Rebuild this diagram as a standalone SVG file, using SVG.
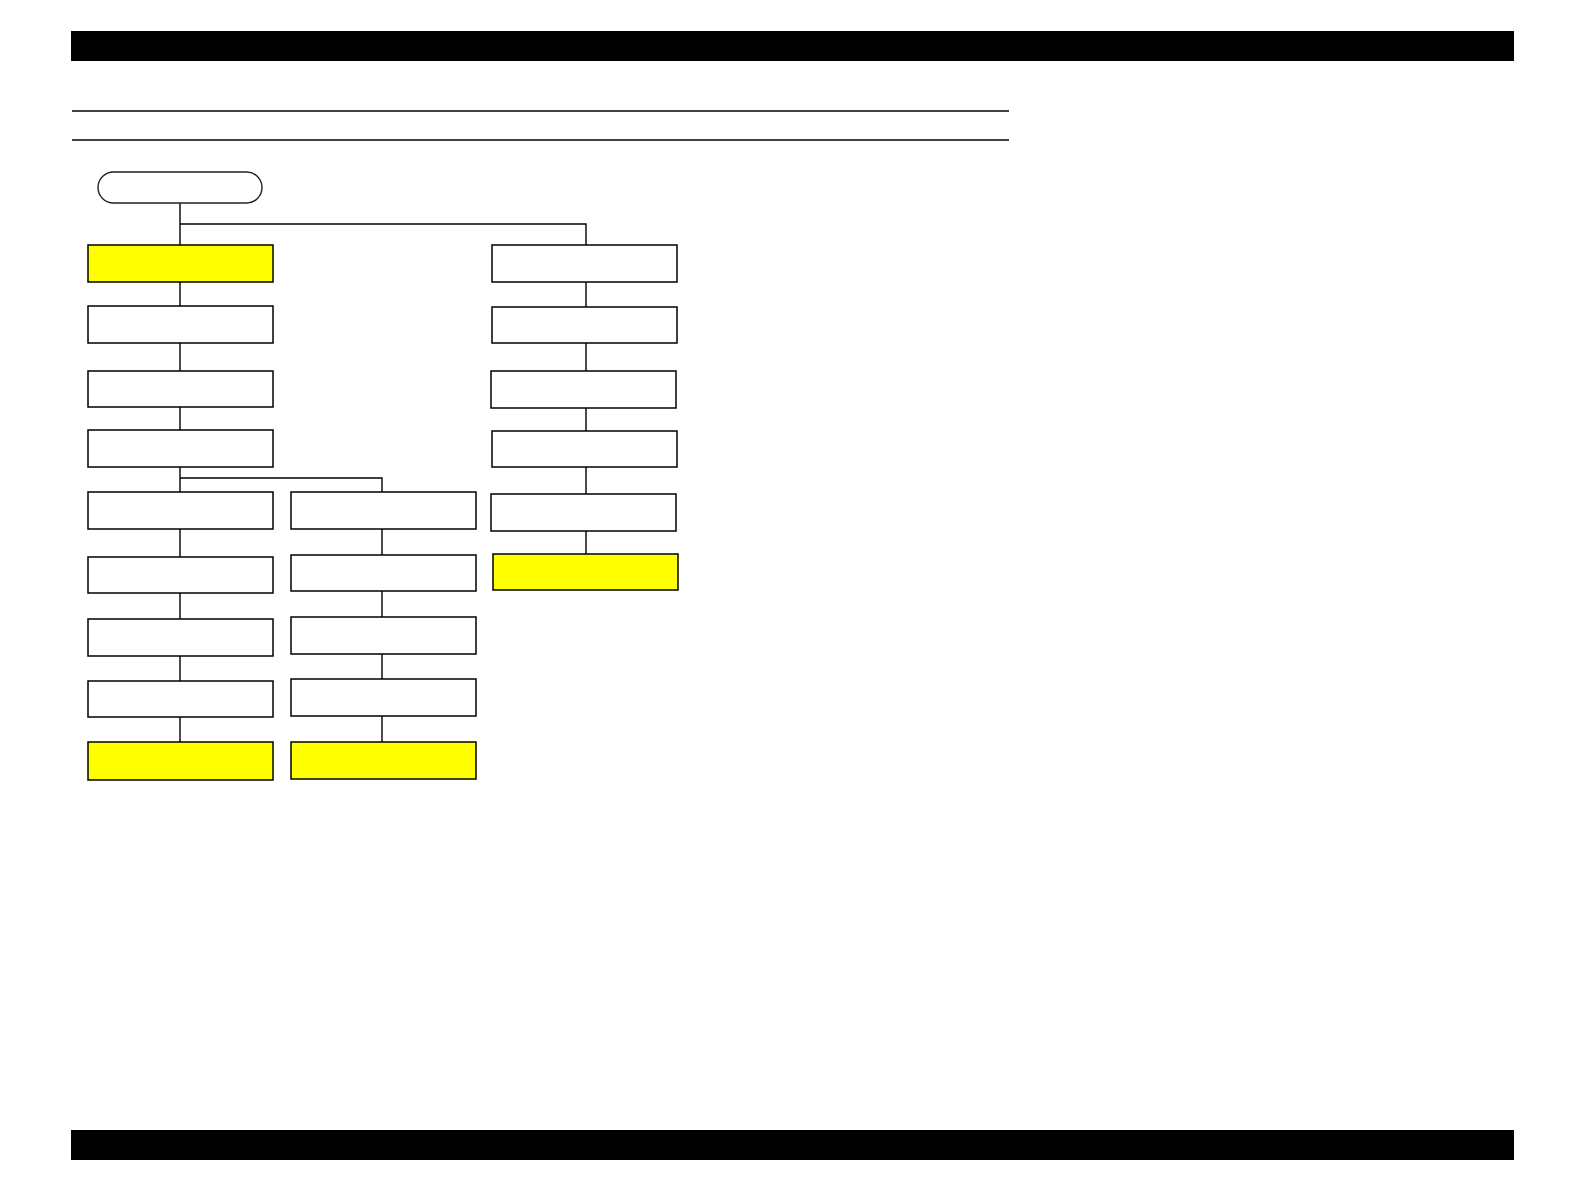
<svg xmlns="http://www.w3.org/2000/svg" width="1584" height="1190" viewBox="0 0 1584 1190">
<style>
.bar{fill:#000}
.rule{stroke:#000;stroke-width:1.6;fill:none}
.box{fill:#fff;stroke:#000;stroke-width:1.5}
.hi{fill:#ffff00;stroke:#000;stroke-width:1.5}
.term{fill:#fff;stroke:#222;stroke-width:1.4}
.conn{stroke:#000;stroke-width:1.4;fill:none}
</style>
<rect width="1584" height="1190" fill="#fff"/>
<g id="header">
<rect class="bar" x="71" y="31" width="1443" height="30"/>
<line class="rule" x1="72" y1="111" x2="1009" y2="111"/>
<line class="rule" x1="72" y1="140" x2="1009" y2="140"/>
</g>
<g id="footer">
<rect class="bar" x="71" y="1130" width="1443" height="30"/>
</g>
<g id="connectors">
<path class="conn" d="M180 203V245M180 224H586V245"/>
<path class="conn" d="M180 282V306M180 343V371M180 407V430M180 467V492M180 478H382V492"/>
<path class="conn" d="M180 529V557M180 593V619M180 656V681M180 717V742"/>
<path class="conn" d="M382 529V555M382 591V617M382 654V679M382 716V742"/>
<path class="conn" d="M586 282V307M586 343V371M586 408V431M586 467V494M586 531V554"/>
</g>
<g id="start"><rect class="term" x="98" y="172" width="164" height="31" rx="15.5" ry="15.5"/></g>
<g id="a1"><rect class="hi" x="88" y="245" width="185" height="37"/></g>
<g id="a2"><rect class="box" x="88" y="306" width="185" height="37"/></g>
<g id="a3"><rect class="box" x="88" y="371" width="185" height="36"/></g>
<g id="a4"><rect class="box" x="88" y="430" width="185" height="37"/></g>
<g id="a5"><rect class="box" x="88" y="492" width="185" height="37"/></g>
<g id="a6"><rect class="box" x="88" y="557" width="185" height="36"/></g>
<g id="a7"><rect class="box" x="88" y="619" width="185" height="37"/></g>
<g id="a8"><rect class="box" x="88" y="681" width="185" height="36"/></g>
<g id="a9"><rect class="hi" x="88" y="742" width="185" height="38"/></g>
<g id="b1"><rect class="box" x="291" y="492" width="185" height="37"/></g>
<g id="b2"><rect class="box" x="291" y="555" width="185" height="36"/></g>
<g id="b3"><rect class="box" x="291" y="617" width="185" height="37"/></g>
<g id="b4"><rect class="box" x="291" y="679" width="185" height="37"/></g>
<g id="b5"><rect class="hi" x="291" y="742" width="185" height="37"/></g>
<g id="c1"><rect class="box" x="492" y="245" width="185" height="37"/></g>
<g id="c2"><rect class="box" x="492" y="307" width="185" height="36"/></g>
<g id="c3"><rect class="box" x="491" y="371" width="185" height="37"/></g>
<g id="c4"><rect class="box" x="492" y="431" width="185" height="36"/></g>
<g id="c5"><rect class="box" x="491" y="494" width="185" height="37"/></g>
<g id="c6"><rect class="hi" x="493" y="554" width="185" height="36"/></g>
</svg>
